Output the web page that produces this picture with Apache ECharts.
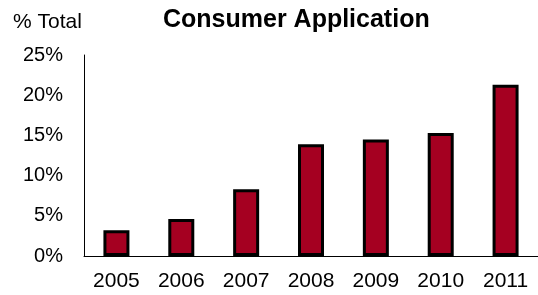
<!DOCTYPE html>
<html>
<head>
<meta charset="utf-8">
<script src="https://cdn.jsdelivr.net/npm/echarts@6/dist/echarts.min.js"></script>
<style>
html,body{margin:0;padding:0;background:#fff;}
#chart{width:538px;height:295px;}
</style>
</head>
<body>
<div id="chart"></div>
<script>
const categories = ['2005', '2006', '2007', '2008', '2009', '2010', '2011'];
const values = [3.2, 4.6, 8.3, 13.9, 14.5, 15.3, 21.3];
const yTicks = [0, 5, 10, 15, 20, 25];

const chart = echarts.init(document.getElementById('chart'), null, {renderer: 'canvas'});
chart.setOption({
  animation: false,
  backgroundColor: '#ffffff',
  title: [
    {text: 'Consumer Application', left: 163, top: 8, padding: 0,
     textStyle: {fontFamily: 'Liberation Sans, Arial', fontWeight: 'bold', fontSize: 25, color: '#000'}},
    {text: '% Total', left: 13, top: 12, padding: 0,
     textStyle: {fontFamily: 'Liberation Sans, Arial', fontWeight: 'normal', fontSize: 21, color: '#000'}}
  ],
  grid: {left: 84, right: -4, top: 55, bottom: 39, containLabel: false},
  xAxis: {
    type: 'category',
    data: categories,
    axisLine: {lineStyle: {color: '#000', width: 1}},
    axisTick: {show: false},
    axisLabel: {color: '#000', fontFamily: 'Liberation Sans, Arial', fontSize: 21, margin: 15}
  },
  yAxis: {
    type: 'value',
    min: yTicks[0],
    max: yTicks[yTicks.length - 1],
    interval: 5,
    axisLine: {show: true, lineStyle: {color: '#000', width: 1}},
    axisTick: {show: false},
    splitLine: {show: false},
    axisLabel: {color: '#000', fontFamily: 'Liberation Sans, Arial', fontSize: 20, margin: 21,
      formatter: v => v + '%'}
  },
  series: [{
    type: 'bar',
    data: values,
    barWidth: 26,
    itemStyle: {color: '#A50021', borderColor: '#000', borderWidth: 3}
  }]
});
</script>
</body>
</html>
